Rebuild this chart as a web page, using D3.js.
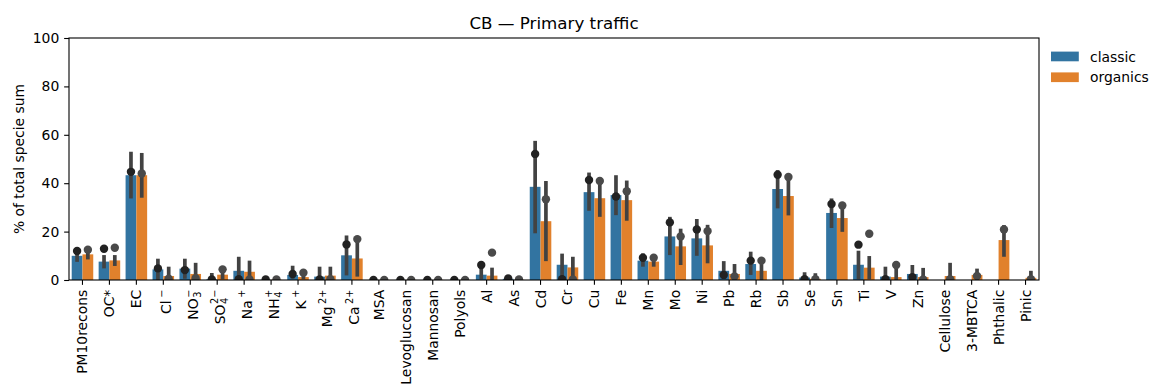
<!DOCTYPE html>
<html><head><meta charset="utf-8">
<script src="https://cdn.jsdelivr.net/npm/d3@7"></script>
<style>body{margin:0;background:#fff}svg{display:block}text{font-family:"DejaVu Sans",sans-serif;fill:#000}</style>
</head><body><svg id="c" width="1150" height="385"></svg>
<script>
// ---- data ----
const categories = ["PM10recons","OC*","EC","Cl^−","NO_3^−","SO_4^2−","Na^+","NH_4^+","K^+","Mg^2+","Ca^2+","MSA","Levoglucosan","Mannosan","Polyols","Al","As","Cd","Cr","Cu","Fe","Mn","Mo","Ni","Pb","Rb","Sb","Se","Sn","Ti","V","Zn","Cellulose","3-MBTCA","Phthalic","Pinic"];
const seriesNames = ["classic","organics"];
const classicMean = [10.0,7.6,43.3,4.4,4.7,0.3,3.8,0.1,2.1,1.4,10.2,0.05,0.05,0.05,0.05,2.2,0.5,38.5,6.3,36.3,35.1,8.0,18.0,17.2,3.8,6.6,37.6,1.0,27.7,6.3,1.4,2.5,null,null,null,null];
const classicLo   = [7.5,4.8,33.7,0,0.5,0,0,0,0.5,0,1.9,0,0,0,0,0.3,0,19.3,0.5,28.6,26.8,5.5,10.3,10.0,0.4,2.1,29.6,0,21.5,0.3,0,0,null,null,null,null];
const classicHi   = [12.5,10.3,53.0,8.8,8.8,2.9,9.6,0.3,5.9,5.5,18.4,0.1,0.1,0.1,0.1,7.1,1.6,57.5,10.9,44.4,43.3,11.0,26.1,25.2,7.8,11.7,45.4,3.2,33.7,12.1,5.5,6.2,null,null,null,null];
const classicDot  = [12.0,12.9,44.7,4.8,4.1,0.2,0.3,0.2,2.5,0.2,14.7,0,0,0,0,6.2,0.6,52.1,0.3,41.3,34.5,9.2,23.8,20.9,2.1,8.0,43.5,0.3,31.4,14.6,0.3,1.2,null,null,null,null];
const organicsMean = [10.6,8.1,43.3,1.65,2.5,2.2,3.4,0.1,1.2,1.8,8.9,0.05,0.05,0.05,0.05,1.8,0.1,24.3,5.2,33.8,33.0,7.6,13.9,14.3,2.5,3.8,34.7,0.5,25.6,5.1,1.2,1.2,1.65,2.1,16.5,0.9];
const organicsLo   = [8.5,5.8,34.0,0,0,0.3,0,0,0.3,0,1.4,0,0,0,0,0,0,7.8,0,26.1,24.5,5.5,6.2,6.9,0,0,26.7,0,19.9,0.3,0,0,0,0,9.6,0];
const organicsHi   = [12.6,10.3,52.5,5.5,7.1,5.3,8.0,0.3,4.1,5.5,17.2,0.1,0.1,0.1,0.1,5.1,0.3,40.9,9.6,41.8,41.1,10.3,21.2,22.8,6.6,8.8,42.6,2.8,31.6,9.9,6.0,5.0,7.1,4.7,22.7,3.8];
const organicsDot  = [12.5,13.3,44.0,0.5,0.7,4.4,0.2,0.2,3.0,0.3,16.9,0,0,0,0,11.3,0.2,33.4,0.2,40.9,36.7,9.2,18.0,20.2,1.5,8.0,42.6,0.3,30.8,19.1,6.2,0.2,0.3,1.65,20.9,0.3];
const yTicks = [0,20,40,60,80,100];
const title = "CB — Primary traffic";
const yLabel = "% of total specie sum";

// ---- layout ----
const svg = d3.select("#c");
const L = 69, R = 1039, T = 38, B = 280;
const colors = ["#3274a1","#e1812c"];
const dotColors = ["#222222","#4a4a4a"];
const FS = 13.9;

const x = d3.scaleBand().domain(categories).range([L,R]).padding(0);
const y = d3.scaleLinear().domain([0,100]).range([B,T]);
const bw = x.bandwidth()*0.4;

svg.append("clipPath").attr("id","clip").append("rect").attr("x",L).attr("y",T).attr("width",R-L).attr("height",B-T);
const plot = svg.append("g").attr("clip-path","url(#clip)");

const series = [
  {mean:classicMean, lo:classicLo, hi:classicHi, dot:classicDot},
  {mean:organicsMean, lo:organicsLo, hi:organicsHi, dot:organicsDot}
];
series.forEach((s,si)=>{
  const data = categories.map((c,i)=>({c,m:s.mean[i],lo:s.lo[i],hi:s.hi[i],d:s.dot[i]}));
  const cx = d => x(d.c) + x.bandwidth()/2 + (si===0 ? -bw/2 : bw/2);
  plot.append("g").selectAll("rect").data(data.filter(d=>d.m!=null)).join("rect")
    .attr("x",d=>cx(d)-bw/2).attr("width",bw)
    .attr("y",d=>y(d.m)).attr("height",d=>y(0)-y(d.m)).attr("fill",colors[si]);
  s._data = data; s._cx = cx;
});
series.forEach((s,si)=>{
  plot.append("g").selectAll("line").data(s._data.filter(d=>d.lo!=null)).join("line")
    .attr("x1",s._cx).attr("x2",s._cx).attr("y1",d=>y(d.lo)).attr("y2",d=>y(d.hi))
    .attr("stroke","#424242").attr("stroke-width",3.7);
});
series.forEach((s,si)=>{
  plot.append("g").selectAll("circle").data(s._data.filter(d=>d.d!=null)).join("circle")
    .attr("cx",s._cx).attr("cy",d=>y(d.d)).attr("r",4.2).attr("fill",dotColors[si]);
});

// axes frame
svg.append("rect").attr("x",L).attr("y",T).attr("width",R-L).attr("height",B-T)
  .attr("fill","none").attr("stroke","#000").attr("stroke-width",1.1);

// y axis
const yAxis = svg.append("g").attr("transform",`translate(${L},0)`)
  .call(d3.axisLeft(y).tickValues(yTicks).tickSize(4.86).tickPadding(4.86).tickFormat(d3.format("d")));
yAxis.select(".domain").remove();
yAxis.selectAll("line").attr("stroke","#000").attr("stroke-width",1.1);
yAxis.selectAll("text").attr("font-size",FS).attr("font-family","DejaVu Sans").attr("fill","#000");

// x ticks
const xt = svg.append("g");
xt.selectAll("line").data(categories).join("line")
  .attr("x1",d=>x(d)+x.bandwidth()/2).attr("x2",d=>x(d)+x.bandwidth()/2)
  .attr("y1",B).attr("y2",B+4.86).attr("stroke","#000").attr("stroke-width",1.1);

// measurer
const meas = svg.append("text").attr("visibility","hidden");
function tw(str,size){ meas.attr("font-size",size).text(str); return meas.node().getComputedTextLength(); }
function parse(lbl){
  let base=lbl, sub="", sup="";
  const ci = lbl.indexOf("^");
  if(ci>=0){ sup = lbl.slice(ci+1); base = lbl.slice(0,ci); }
  const si = base.indexOf("_");
  if(si>=0){ sub = base.slice(si+1); base = base.slice(0,si); }
  return {base,sub,sup};
}
const SS = FS*0.7;
categories.forEach(lbl=>{
  const p = parse(lbl);
  const wb = tw(p.base,FS);
  const gap = (p.sup && !p.sub) ? 2.5 : 0.5;
  const ws = p.sub ? tw(p.sub,SS) : 0;
  const wp = p.sup ? tw(p.sup,SS) : 0;
  const extra = (p.sub||p.sup) ? gap + Math.max(ws,wp) : 0;
  const total = wb + extra;
  const cx = x(lbl)+x.bandwidth()/2;
  const shiftY = p.sup ? 2.5 : 0;
  const g = xt.append("g").attr("transform",`translate(${cx+shiftY},${B+9.7}) rotate(-90)`);
  const x0 = -total;
  g.append("text").attr("x",x0).attr("y",FS*0.36).attr("font-size",FS).text(p.base);
  if(p.sub) g.append("text").attr("x",x0+wb+gap).attr("y",FS*0.36+FS*0.22).attr("font-size",SS).text(p.sub);
  if(p.sup) g.append("text").attr("x",x0+wb+gap).attr("y",FS*0.36-FS*0.45).attr("font-size",SS).text(p.sup);
});

// title and labels
svg.append("text").attr("x",(L+R)/2).attr("y",29).attr("text-anchor","middle").attr("font-size",16.7).text(title);
svg.append("text").attr("transform",`translate(24,${(T+B)/2}) rotate(-90)`).attr("text-anchor","middle").attr("font-size",FS).text(yLabel);

// legend
const lg = svg.append("g");
seriesNames.forEach((n,i)=>{
  const yy = 56.5 + i*20.8;
  lg.append("rect").attr("x",1051).attr("y",yy-4.9).attr("width",27.8).attr("height",9.7).attr("fill",colors[i]);
  lg.append("text").attr("x",1090).attr("y",yy+5).attr("font-size",FS).text(n);
});
</script></body></html>
